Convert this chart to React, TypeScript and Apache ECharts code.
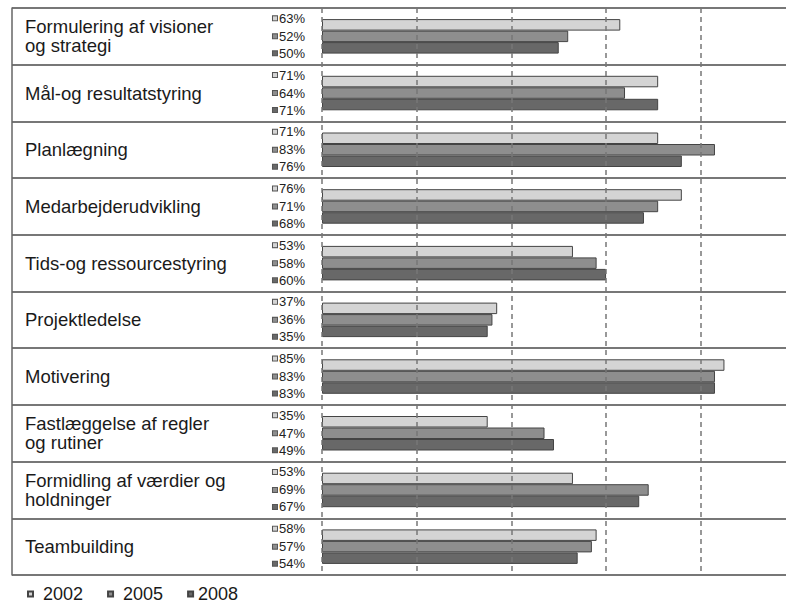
import React, { useEffect, useRef } from "react";
import * as echarts from "echarts";

const categories = [
  "Formulering af visioner\nog strategi",
  "Mål-og resultatstyring",
  "Planlægning",
  "Medarbejderudvikling",
  "Tids-og ressourcestyring",
  "Projektledelse",
  "Motivering",
  "Fastlæggelse af regler\nog rutiner",
  "Formidling af værdier og\nholdninger",
  "Teambuilding",
];
const years = ["2002", "2005", "2008"];
const values2002 = [63, 71, 71, 76, 53, 37, 85, 35, 53, 58];
const values2005 = [52, 64, 83, 71, 58, 36, 83, 47, 69, 57];
const values2008 = [50, 71, 76, 68, 60, 35, 83, 49, 67, 54];
const xMin = 0;
const xMax = 98; // axis is cropped at the right edge of the picture
const xInterval = 20;

const colors = ["#d4d4d4", "#8e8e8e", "#686868"];
const labelOffsets = [-6.5, 0, 5.5];
const FONT = "'Liberation Sans', Arial, sans-serif";

export default function App() {
  const ref = useRef<HTMLDivElement>(null);
  useEffect(() => {
    if (!ref.current) return;
    const chart = echarts.init(ref.current, null, { renderer: "svg" });
    const seriesData = [values2002, values2005, values2008];
    const series = years.map((y, i) => ({
      name: y,
      type: "bar",
      xAxisIndex: 1,
      yAxisIndex: 1,
      data: seriesData[i],
      barWidth: 11.5,
      barGap: "0%",
      itemStyle: { color: colors[i], borderColor: "#444", borderWidth: 1 },
      label: {
        show: true,
        position: "left",
        distance: 17,
        offset: [0, labelOffsets[i]],
        formatter: (p: any) => `{sq|}{v|${p.value}%}`,
        rich: {
          sq: {
            width: 4,
            height: 4,
            backgroundColor: colors[i],
            borderColor: "#555",
            borderWidth: 1,
          },
          v: {
            fontFamily: FONT,
            fontSize: 13,
            color: "#222",
            padding: [0, 0, 0, 2],
          },
        },
      },
      z: 2,
    }));

    chart.setOption({
      animation: false,
      backgroundColor: "#ffffff",
      grid: [
        { left: 12, right: 0, top: 8, height: 567 },
        { left: 322, right: 0, top: 8, height: 567 },
      ],
      xAxis: [
        { gridIndex: 0, type: "value", show: false },
        {
          gridIndex: 1,
          type: "value",
          min: xMin,
          max: xMax,
          interval: xInterval,
          axisLabel: { show: false },
          axisLine: { show: false },
          axisTick: { show: false },
          splitLine: {
            show: true,
            showMaxLine: false,
            lineStyle: { color: "#777", width: 1.5, type: [5, 4] },
          },
          z: 5,
        },
      ],
      yAxis: [
        {
          gridIndex: 0,
          type: "category",
          inverse: true,
          data: categories,
          axisLine: { show: true, lineStyle: { color: "#666", width: 1.5 } },
          axisTick: { show: false },
          splitLine: { show: true, lineStyle: { color: "#777", width: 2 } },
          axisLabel: {
            inside: true,
            margin: 13,
            align: "left",
            fontFamily: FONT,
            fontSize: 18.5,
            lineHeight: 19,
            color: "#1a1a1a",
          },
        },
        {
          gridIndex: 1,
          type: "category",
          inverse: true,
          data: categories,
          show: false,
        },
      ],
      legend: {
        left: 22,
        top: 580,
        icon: "rect",
        itemWidth: 5,
        itemHeight: 5,
        itemGap: 24,
        data: years.map((y, i) => ({
          name: y,
          textStyle: { padding: i < 2 ? [0, 0, 0, 5] : [0, 0, 0, 0] },
        })),
        textStyle: { fontFamily: FONT, fontSize: 18, color: "#1a1a1a" },
      },
      series,
    });
    return () => chart.dispose();
  }, []);
  return (
    <div
      ref={ref}
      style={{ position: "absolute", left: 0, top: 0, width: 786, height: 603 }}
    />
  );
}
